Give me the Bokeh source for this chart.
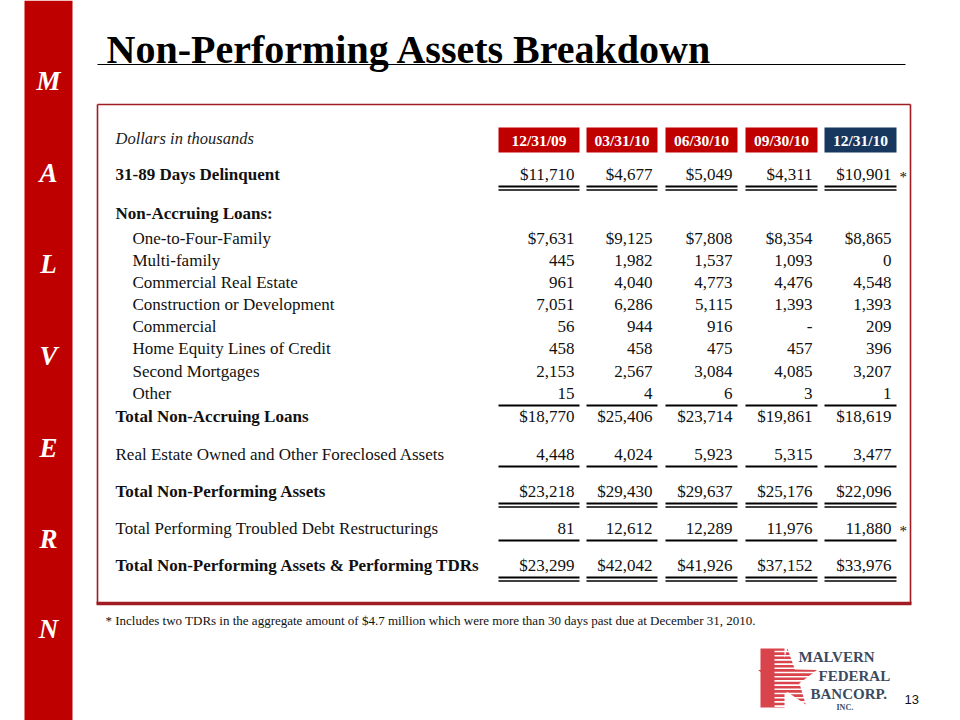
import numpy as np
from bokeh.plotting import figure
from bokeh.models import Range1d
from bokeh.embed import file_html
from bokeh.resources import INLINE
from bokeh.core.properties import value

# ---------------- data ----------------
title = "Non-Performing Assets Breakdown"
sidebar_letters = ["M", "A", "L", "V", "E", "R", "N"]
dates = ["12/31/09", "03/31/10", "06/30/10", "09/30/10", "12/31/10"]

delinquent = [11710, 4677, 5049, 4311, 10901]
one_to_four = [7631, 9125, 7808, 8354, 8865]
multi_family = [445, 1982, 1537, 1093, 0]
commercial_re = [961, 4040, 4773, 4476, 4548]
construction = [7051, 6286, 5115, 1393, 1393]
commercial = [56, 944, 916, None, 209]
heloc = [458, 458, 475, 457, 396]
second_mortgages = [2153, 2567, 3084, 4085, 3207]
other = [15, 4, 6, 3, 1]
total_non_accruing = [18770, 25406, 23714, 19861, 18619]
reo = [4448, 4024, 5923, 5315, 3477]
total_npa = [23218, 29430, 29637, 25176, 22096]
performing_tdr = [81, 12612, 12289, 11976, 11880]
total_npa_tdr = [23299, 42042, 41926, 37152, 33976]

footnote = ("* Includes two TDRs in the aggregate amount of $4.7 million which were "
            "more than 30 days past due at December 31, 2010.")

# ---------------- figure ----------------
W, H = 960, 720
p = figure(width=W, height=H, x_range=Range1d(0, W), y_range=Range1d(H, 0),
           output_backend="svg", toolbar_location=None, min_border=0,
           x_axis_location=None, y_axis_location=None)
p.grid.visible = False
p.outline_line_color = None
p.background_fill_color = "white"
p.border_fill_color = "white"

SERIF = "Liberation Serif"


def txt(x, y, s, size, align="left", style="normal", color="black", font=SERIF, baseline="middle"):
    p.text(x=x if isinstance(x, list) else [x], y=y if isinstance(y, list) else [y],
           text=s if isinstance(s, list) else [s],
           text_font=value(font), text_font_size=f"{size}px", text_font_style=style,
           text_align=align, text_baseline=baseline, text_color=color)


# sidebar
RED = "#bf0000"
p.quad(left=24, right=72, top=0, bottom=720, fill_color=RED, line_color=None)
sy = [80, 172, 263, 355, 447, 538, 628]
txt([48] * 7, sy, sidebar_letters, 27, align="center", style="bold italic", color="white")

# title
txt(106, 49, title, 40, style="bold", baseline="alphabetic")
p.segment(x0=[97], y0=[64], x1=[905], y1=[64], line_color="black", line_width=1.2)

# table box
BOX = "#a01c22"
p.segment(x0=[97, 97, 910], y0=[104, 104, 104], x1=[910, 97, 910], y1=[104, 603, 603],
          line_color=BOX, line_width=1.6)
p.segment(x0=[96], y0=[603], x1=[911], y1=[603], line_color=BOX, line_width=3.5)

# header
col_l = [498, 586, 665, 745, 824]
col_r = [579, 657, 737, 817, 896]
fills = ["#c00000"] * 4 + ["#17375e"]
p.quad(left=col_l, right=col_r, top=[127] * 5, bottom=[152] * 5, fill_color=fills, line_color=None)
txt([(a + b) / 2 for a, b in zip(col_l, col_r)], [139.5] * 5, dates, 15.5,
    align="center", style="bold", color="white")
txt(115, 138, "Dollars in thousands", 16.5, style="italic", color="#222222")


def fmt(v, dollar):
    if v is None:
        return "-"
    s = f"{v:,}"
    return "$" + s if dollar else s


# rows: (label, values, bold, indent, y, dollar, underline)
rows = [
    ("31-89 Days Delinquent", delinquent, True, False, 174, True, "double"),
    ("Non-Accruing Loans:", None, True, False, 213, False, None),
    ("One-to-Four-Family", one_to_four, False, True, 238, True, None),
    ("Multi-family", multi_family, False, True, 260, False, None),
    ("Commercial Real Estate", commercial_re, False, True, 282, False, None),
    ("Construction or Development", construction, False, True, 304, False, None),
    ("Commercial", commercial, False, True, 326, False, None),
    ("Home Equity Lines of Credit", heloc, False, True, 348, False, None),
    ("Second Mortgages", second_mortgages, False, True, 371, False, None),
    ("Other", other, False, True, 393, False, "single"),
    ("Total Non-Accruing Loans", total_non_accruing, True, False, 416, True, None),
    ("Real Estate Owned and Other Foreclosed Assets", reo, False, False, 454, False, "single"),
    ("Total Non-Performing Assets", total_npa, True, False, 491, True, "double"),
    ("Total Performing Troubled Debt Restructurings", performing_tdr, False, False, 528, False, "single"),
    ("Total Non-Performing Assets & Performing TDRs", total_npa_tdr, True, False, 565, True, "double"),
]

FS = 17
for label, vals, bold, indent, y, dollar, ul in rows:
    txt(132 if indent else 115, y, label, FS, style="bold" if bold else "normal", color="#111111")
    if vals is None:
        continue
    txt([r - 5 for r in col_r], [y] * 5, [fmt(v, dollar) for v in vals], FS, align="right", color="#111111")
    if ul == "single":
        p.segment(x0=col_l, y0=[y + 12] * 5, x1=col_r, y1=[y + 12] * 5, line_color="black", line_width=2.2)
    elif ul == "double":
        p.segment(x0=col_l, y0=[y + 12] * 5, x1=col_r, y1=[y + 12] * 5, line_color="black", line_width=1.8)
        p.segment(x0=col_l, y0=[y + 15.5] * 5, x1=col_r, y1=[y + 15.5] * 5, line_color="black", line_width=1.4)

# asterisks
txt([899, 899], [176, 530], ["*", "*"], 15, align="left", color="#111111")

# footnote
txt(105, 620, footnote, 13, color="#111111")

# logo
LOGO = "#d9434b"
p.quad(left=760, right=784, top=648, bottom=707, fill_color=LOGO, line_color=None)
ang = np.pi / 2 + np.arange(10) * np.pi / 5
rad = np.where(np.arange(10) % 2 == 0, 31, 12.5)
cx, cy = 787, 679
p.patch(x=list(cx + rad * np.cos(ang)), y=list(cy - rad * np.sin(ang)), fill_color=LOGO, line_color=None)
ys = np.arange(651, 707, 4.2)
p.segment(x0=[774] * len(ys), y0=list(ys), x1=[822] * len(ys), y1=list(ys), line_color="white", line_width=1.6)
NAVY = "#3b4a5e"
txt(798, 656, "MALVERN", 15, style="bold", color=NAVY)
txt(818, 675, "FEDERAL", 15, style="bold", color=NAVY)
txt(810, 693, "BANCORP.", 15, style="bold", color=NAVY)
txt(836, 707, "INC.", 8, style="bold", color=NAVY)

# page number
txt(904, 699, "13", 13, color="#111111", font="Liberation Sans")

open("out.html", "w").write(file_html(p, INLINE))
